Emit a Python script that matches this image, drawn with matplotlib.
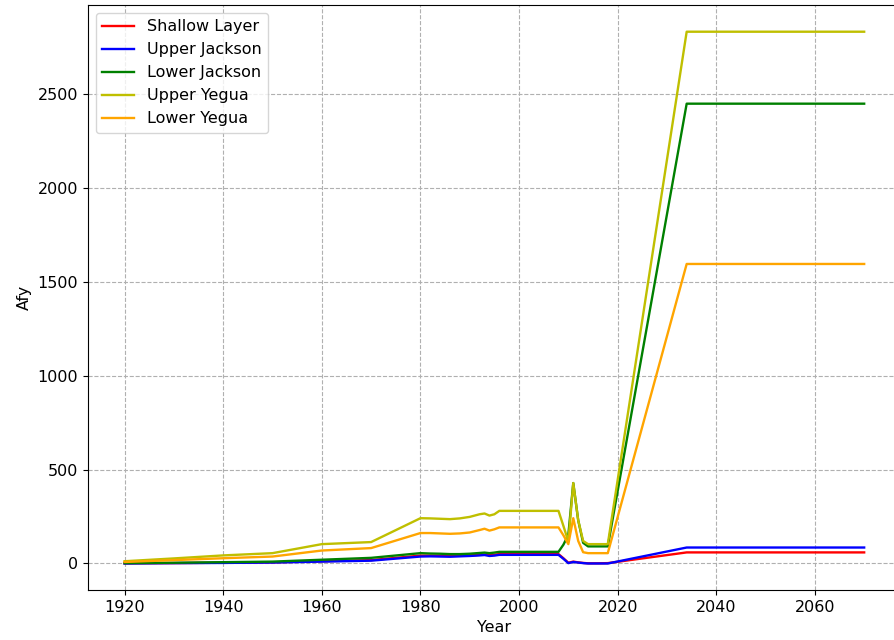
import numpy as np
import matplotlib
matplotlib.use("Agg")
import matplotlib.pyplot as plt

years = [1920, 1930, 1940, 1950, 1960, 1970, 1980, 1982, 1984, 1986, 1988,
         1990, 1992, 1993, 1994, 1995, 1996, 2000, 2005, 2008, 2009, 2010,
         2011, 2012, 2013, 2014, 2016, 2018, 2034, 2050, 2070]

shallow_layer = [1, 2, 4, 6, 12, 18, 42, 42, 41, 40, 41, 43, 46, 48, 45, 47,
                 50, 50, 50, 50, 28, 4, 10, 6, 3, 1, 1, 2, 59, 59, 59]
upper_jackson = [0, 2, 3, 5, 10, 15, 37, 38, 37, 36, 38, 40, 43, 45, 40, 42,
                 46, 46, 46, 46, 25, 2, 8, 5, 2, 0, 0, 0, 85, 85, 85]
lower_jackson = [2, 4, 7, 10, 20, 30, 55, 53, 52, 50, 50, 52, 56, 58, 55, 58,
                 62, 62, 62, 62, 100, 153, 428, 230, 110, 91, 91, 91,
                 2447, 2447, 2447]
upper_yegua = [12, 27, 43, 55, 103, 114, 241, 240, 238, 236, 240, 248, 262,
               266, 255, 262, 280, 280, 280, 280, 200, 117, 428, 230, 120,
               103, 103, 103, 2830, 2830, 2830]
lower_yegua = [8, 18, 28, 37, 69, 82, 162, 162, 160, 158, 160, 165, 178, 185,
               175, 182, 192, 192, 192, 192, 150, 103, 241, 120, 60, 55, 55,
               55, 1594, 1594, 1594]

series = [("Shallow Layer", shallow_layer, "r"),
          ("Upper Jackson", upper_jackson, "b"),
          ("Lower Jackson", lower_jackson, "g"),
          ("Upper Yegua", upper_yegua, "y"),
          ("Lower Yegua", lower_yegua, "orange")]

plt.rcParams["font.size"] = 11.5

fig = plt.figure(figsize=(8.94, 6.4), dpi=100)
# the original picture is cropped on the right, so the right spine is not seen
ax = fig.add_axes([0.098, 0.078, 0.91, 0.914])

for name, vals, col in series:
    ax.plot(years, vals, color=col, label=name, linewidth=1.7)

ax.set_xlabel("Year")
ax.set_ylabel("Afy")
ax.grid(True, linestyle="--")
ax.spines["right"].set_visible(False)
ax.legend(loc="upper left")

fig.savefig("out.png", dpi=100)
